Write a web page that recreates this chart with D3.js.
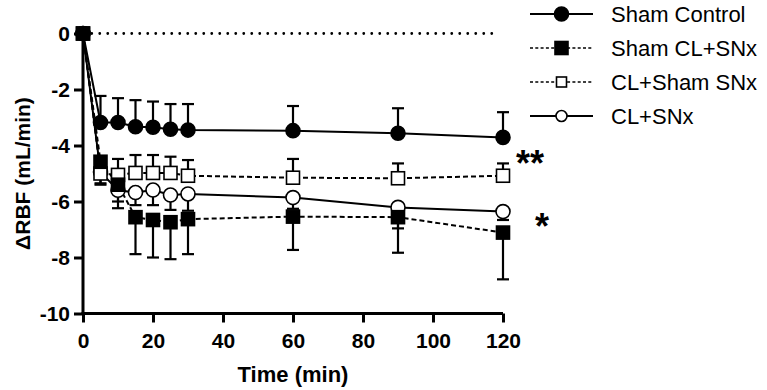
<!DOCTYPE html>
<html>
<head>
<meta charset="utf-8">
<script src="https://cdn.jsdelivr.net/npm/d3@7"></script>
<style>
  body { margin: 0; background: #fff; }
  svg { display: block; font-family: "Liberation Sans", Arial, sans-serif; }
</style>
</head>
<body>
<svg></svg>
<script>
// Data
const times = [0, 5, 10, 15, 20, 25, 30, 60, 90, 120];
const xTicks = [0, 20, 40, 60, 80, 100, 120];
const yTicks = [0, -2, -4, -6, -8, -10];

const shamControl = [0, -3.18, -3.18, -3.33, -3.35, -3.42, -3.45, -3.47, -3.56, -3.71];
const shamControlErr = [0, 0.95, 0.87, 0.95, 0.92, 0.90, 0.93, 0.88, 0.89, 0.90];
const shamClSnx = [0, -4.58, -5.4, -6.56, -6.66, -6.74, -6.63, -6.54, -6.56, -7.11];
const shamClSnxErr = [0, 0.82, 0.84, 1.32, 1.34, 1.32, 1.25, 1.19, 1.27, 1.67];
const clShamSnx = [0, -5.0, -5.05, -4.98, -4.98, -4.98, -5.08, -5.15, -5.17, -5.08];
const clShamSnxErr = [0, 0.45, 0.57, 0.64, 0.64, 0.58, 0.56, 0.67, 0.53, 0.44];
const clSnx = [0, -4.95, -5.6, -5.68, -5.59, -5.77, -5.73, -5.86, -6.21, -6.36];
const clSnxErr = [0, 0.4, 0.4, 0.45, 0.54, 0.53, 0.6, 0.4, 0.75, 0.3];

const seriesNames = ["Sham Control", "Sham CL+SNx", "CL+Sham SNx", "CL+SNx"];

// series: values, errors, error direction, marker, dash
const series = [
  { name: seriesNames[3], vals: clSnx, err: clSnxErr, dir: -1, shape: "circle", fill: "#fff", dash: null },
  { name: seriesNames[2], vals: clShamSnx, err: clShamSnxErr, dir: 1, shape: "square", fill: "#fff", dash: "5,3" },
  { name: seriesNames[1], vals: shamClSnx, err: shamClSnxErr, dir: -1, shape: "square", fill: "#000", dash: "5,3" },
  { name: seriesNames[0], vals: shamControl, err: shamControlErr, dir: 1, shape: "circle", fill: "#000", dash: null }
];

const W = 767, H = 390;
const svg = d3.select("svg").attr("width", W).attr("height", H);

// Scales
const x = d3.scaleLinear().domain([0, 120]).range([83, 503]);
const y = d3.scaleLinear().domain([-10, 0]).range([313.5, 33.5]);

// zero reference line (dotted)
svg.append("line")
  .attr("x1", x(2.5)).attr("x2", x(117))
  .attr("y1", y(0)).attr("y2", y(0))
  .attr("stroke", "#000").attr("stroke-width", 2.8)
  .attr("stroke-dasharray", "0,8").attr("stroke-linecap", "round");

// Axes
const xAxis = svg.append("g")
  .attr("transform", `translate(0,${y(-10)})`)
  .call(d3.axisBottom(x).tickValues(xTicks).tickFormat(d => String(d))
    .tickSize(9).tickSizeOuter(0).tickPadding(11));
const yAxis = svg.append("g")
  .attr("transform", `translate(${x(0)},0)`)
  .call(d3.axisLeft(y).tickValues(yTicks).tickFormat(d => String(d))
    .tickSize(9).tickSizeOuter(0).tickPadding(4));

[xAxis, yAxis].forEach(g => {
  g.select(".domain").attr("stroke-width", 3).attr("stroke", "#000");
  g.selectAll(".tick line").attr("stroke-width", 3).attr("stroke", "#000");
  g.selectAll(".tick text")
    .attr("fill", "#000")
    .style("font-size", "21px")
    .style("font-weight", "bold")
    .style("font-family", "'Liberation Sans', Arial, sans-serif");
});
// extend x domain to meet y axis thickness
xAxis.select(".domain").attr("d", `M${x(0) - 1.5},0H${x(120)}`);
yAxis.select(".domain").attr("d", `M0,${y(-10) + 1.5}V${y(0)}`);

// Axis titles
svg.append("text")
  .attr("x", (x(0) + x(120)) / 2).attr("y", 382)
  .attr("text-anchor", "middle")
  .style("font-size", "22px").style("font-weight", "bold")
  .text("Time (min)");

svg.append("text")
  .attr("transform", `translate(30,${(y(0) + y(-10)) / 2}) rotate(-90)`)
  .attr("text-anchor", "middle")
  .style("font-size", "21px").style("font-weight", "bold")
  .text("ΔRBF (mL/min)");

// Lines
const line = d3.line().x((d, i) => x(times[i])).y(d => y(d));

series.forEach(s => {
  svg.append("path")
    .attr("d", line(s.vals))
    .attr("fill", "none")
    .attr("stroke", "#000")
    .attr("stroke-width", 2)
    .attr("stroke-dasharray", s.dash);
});

// Error bars
series.forEach(s => {
  const g = svg.append("g");
  s.vals.forEach((v, i) => {
    if (s.err[i] === 0) return;
    const end = v + s.dir * s.err[i];
    g.append("line")
      .attr("x1", x(times[i])).attr("x2", x(times[i]))
      .attr("y1", y(v)).attr("y2", y(end))
      .attr("stroke", "#000").attr("stroke-width", 2.2);
    g.append("line")
      .attr("x1", x(times[i]) - 6).attr("x2", x(times[i]) + 6)
      .attr("y1", y(end)).attr("y2", y(end))
      .attr("stroke", "#000").attr("stroke-width", 2.2);
  });
});

// Markers
function drawMarker(g, shape, fill, cx, cy, big) {
  if (shape === "circle") {
    g.append("circle").attr("cx", cx).attr("cy", cy).attr("r", big ? 7 : 5.5)
      .attr("fill", fill).attr("stroke", "#000").attr("stroke-width", 1.6);
  } else {
    const s = big ? 13 : 10;
    g.append("rect").attr("x", cx - s / 2).attr("y", cy - s / 2)
      .attr("width", s).attr("height", s)
      .attr("fill", fill).attr("stroke", "#000").attr("stroke-width", 1.6);
  }
}

series.forEach(s => {
  const g = svg.append("g");
  s.vals.forEach((v, i) => drawMarker(g, s.shape, s.fill, x(times[i]), y(v), true));
});

// Significance stars
svg.append("text").attr("x", 516).attr("y", 176)
  .style("font-size", "36px").style("font-weight", "bold").text("**");
svg.append("text").attr("x", 535).attr("y", 239)
  .style("font-size", "36px").style("font-weight", "bold").text("*");

// Legend
const legendOrder = [series[3], series[2], series[1], series[0]];
const legendY = [14, 48, 82, 116];
legendOrder.forEach((s, i) => {
  const g = svg.append("g").attr("transform", `translate(0,${legendY[i]})`);
  g.append("line").attr("x1", 530).attr("x2", 593).attr("y1", 0).attr("y2", 0)
    .attr("stroke", "#000").attr("stroke-width", s.dash ? 1.3 : 2)
    .attr("stroke-dasharray", s.dash ? "3,2.3" : null);
  drawMarker(g, s.shape, s.fill, 561.5, 0, s.fill === "#000");
  g.append("text").attr("x", 611).attr("y", 7.5)
    .style("font-size", "22px")
    .text(s.name);
});
</script>
</body>
</html>
